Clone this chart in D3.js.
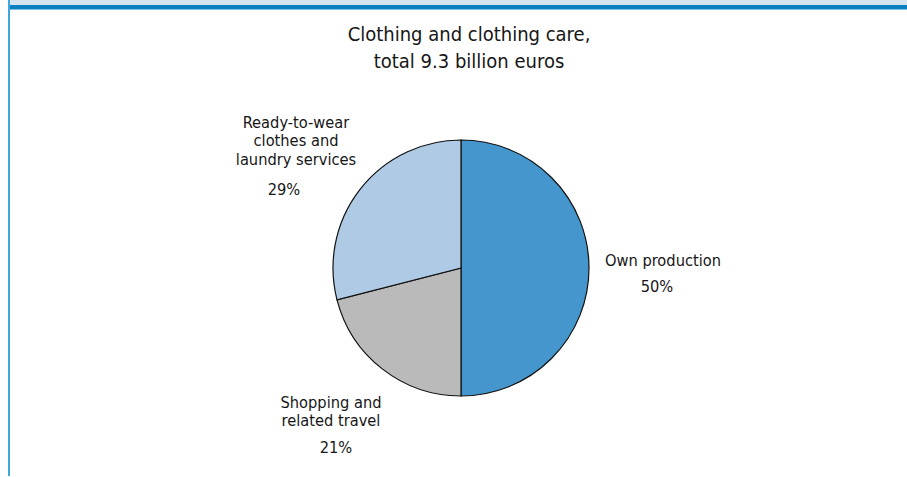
<!DOCTYPE html>
<html><head><meta charset="utf-8">
<script src="https://cdn.jsdelivr.net/npm/d3@7"></script>
<style>body{margin:0;background:#fff}svg{display:block}text{font-family:"DejaVu Sans Condensed","DejaVu Sans",sans-serif;fill:#161616}</style>
</head><body><svg id="c" width="907" height="477"></svg>
<script>
const categories = ["Own production", "Shopping and related travel", "Ready-to-wear clothes and laundry services"];
const values = [50, 21, 29];
const labelLines = [["Own production"], ["Shopping and", "related travel"], ["Ready-to-wear", "clothes and", "laundry services"]];
const pctLabels = ["50%", "21%", "29%"];
const colors = ["#4596cc", "#bababa", "#aecae4"];
const titleLines = ["Clothing and clothing care,", "total 9.3 billion euros"];

const svg = d3.select("#c");
// frame
svg.append("rect").attr("x",10).attr("y",0).attr("width",897).attr("height",5).attr("fill","#d6e4f1");
svg.append("rect").attr("x",9).attr("y",5).attr("width",898).attr("height",4).attr("fill","#0b80c0");
svg.append("rect").attr("x",9).attr("y",9).attr("width",898).attr("height",1).attr("fill","#7fc0e6");
svg.append("rect").attr("x",8).attr("y",0).attr("width",2).attr("height",476).attr("fill","#3ea8dc");

// title
const tg = svg.append("text").attr("text-anchor","middle").style("font-size","20px");
titleLines.forEach((t,i)=>tg.append("tspan").attr("x",469).attr("y",40.5+i*27).text(t));

const cx = 461, cy = 268, r = 128;
const pie = d3.pie().sort(null).value(d=>d)(values);
const arc = d3.arc().innerRadius(0).outerRadius(r);
const g = svg.append("g").attr("transform",`translate(${cx},${cy})`);
g.selectAll("path").data(pie).join("path").attr("d",arc)
  .attr("fill",(d,i)=>colors[i]).attr("stroke","#111").attr("stroke-width",1.2);

// labels
const labelPos = [
  {x:663, y:266, px:657, py:292},
  {x:331, y:408, px:336, py:453},
  {x:296, y:128, px:284, py:195}
];
labelPos.forEach((p,i)=>{
  const t = svg.append("text").attr("text-anchor","middle").style("font-size","16.3px");
  labelLines[i].forEach((l,j)=>t.append("tspan").attr("x",p.x).attr("y",p.y+j*18.4).text(l));
  svg.append("text").attr("text-anchor","middle").style("font-size","16.3px").attr("x",p.px).attr("y",p.py).text(pctLabels[i]);
});
</script></body></html>
